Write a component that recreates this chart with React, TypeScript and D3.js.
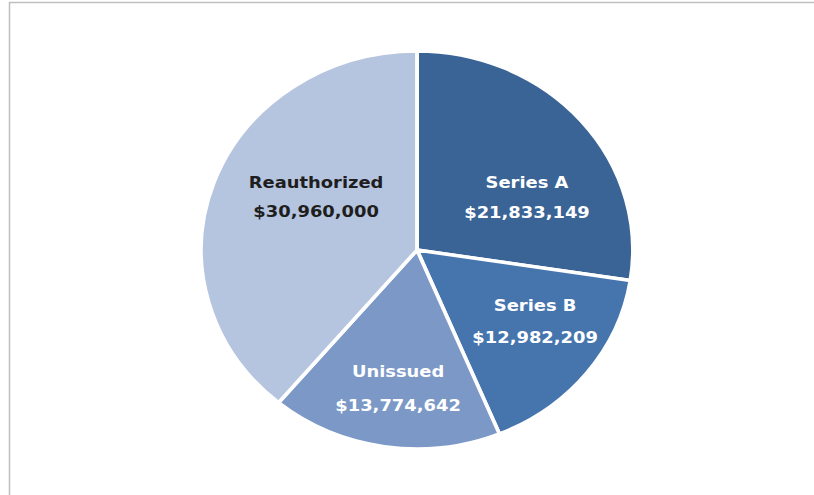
import React from "react";
import * as d3 from "d3";

const categories = ["Series A", "Series B", "Unissued", "Reauthorized"];
const values = [21833149, 12982209, 13774642, 30960000];
const valueLabels = ["$21,833,149", "$12,982,209", "$13,774,642", "$30,960,000"];
const colors = ["#3A6396", "#4675AE", "#7B98C7", "#B5C4DF"];
const textColors = ["#FFFFFF", "#FFFFFF", "#FFFFFF", "#1E1E1E"];
// label layout: polar placement (degrees clockwise from 12 o'clock, fraction of radius)
const labelAngles = [62.4, 123.1, 187.2, 299.7];
const labelRadii = [0.575, 0.653, 0.699, 0.538];
const labelGaps = [30, 32, 34, 29];

export default function App() {
  const W = 814, H = 495;
  const cx = 417, cy = 250;
  const r = 199;
  const sx = 1.085;
  const pie = d3.pie<number>().sort(null).value((d) => d)(values);
  const arc = d3.arc<d3.PieArcDatum<number>>().innerRadius(0).outerRadius(r);
  return (
    <svg width={W} height={H} style={{ position: "absolute", left: 0, top: 0 }}>
      <rect x={0} y={0} width={W} height={H} fill="#fff" />
      <path d={`M9.5,${H} V2.5 H${W}`} fill="none" stroke="#BFBFBF" strokeWidth={1.5} />
      <g transform={`translate(${cx},${cy}) scale(${sx},1)`}>
        {pie.map((p, i) => (
          <path key={categories[i]} d={arc(p) || ""} fill={colors[i]} stroke="#fff" strokeWidth={3.5} strokeLinejoin="miter" />
        ))}
        {pie.map((p, i) => {
          const a = (labelAngles[i] * Math.PI) / 180;
          const rr = r * labelRadii[i];
          const x = Math.sin(a) * rr;
          const y = -Math.cos(a) * rr;
          const g = labelGaps[i];
          return (
            <text key={categories[i]} textAnchor="middle" fill={textColors[i]}
              fontFamily="'DejaVu Sans', sans-serif" fontWeight={700} fontSize={16.5}>
              <tspan x={x} y={y - g / 2 + 6}>{categories[i]}</tspan>
              <tspan x={x} y={y + g / 2 + 6}>{valueLabels[i]}</tspan>
            </text>
          );
        })}
      </g>
    </svg>
  );
}
